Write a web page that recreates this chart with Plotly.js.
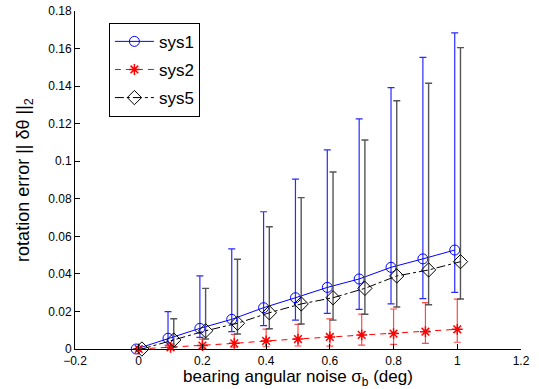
<!DOCTYPE html>
<html>
<head>
<meta charset="utf-8">
<script src="https://cdn.plot.ly/plotly-3.0.1.min.js"></script>
<style>html,body{margin:0;padding:0;background:#fff;}#chart{width:539px;height:389px;}</style>
</head>
<body>
<div id="chart"></div>
<script>
// noise levels (deg)
const noise = [0, 0.1, 0.2, 0.3, 0.4, 0.5, 0.6, 0.7, 0.8, 0.9, 1.0];
// small horizontal offsets used in the original plot to separate series
const sys1Offset = -0.008;
const sys2Offset = 0.0;
const sys5Offset = 0.01;

// sys1: mean, upper bound, lower bound
const sys1Mean  = [0, 0.0057, 0.0110, 0.0158, 0.0220, 0.0273, 0.0328, 0.0373, 0.0435, 0.0480, 0.0527];
const sys1Upper = [0, 0.0199, 0.0389, 0.0533, 0.0731, 0.0905, 0.1060, 0.1225, 0.1392, 0.1553, 0.1683];
const sys1Lower = [0, 0.0020, 0.0062, 0.0092, 0.0124, 0.0154, 0.0190, 0.0211, 0.0240, 0.0268, 0.0302];

// sys2
const sys2Mean  = [0, 0.0009, 0.0018, 0.0030, 0.0043, 0.0053, 0.0064, 0.0075, 0.0082, 0.0092, 0.0105];
const sys2Upper = [0, 0.0028, 0.0053, 0.0078, 0.0106, 0.0131, 0.0160, 0.0186, 0.0213, 0.0247, 0.0266];
const sys2Lower = [0, 0.0003, 0.0005, 0.0010, 0.0012, 0.0016, 0.0015, 0.0021, 0.0025, 0.0030, 0.0036];

// sys5
const sys5Mean  = [0, 0.0048, 0.0097, 0.0137, 0.0193, 0.0240, 0.0273, 0.0323, 0.0389, 0.0421, 0.0465];
const sys5Upper = [0, 0.0161, 0.0323, 0.0478, 0.0651, 0.0806, 0.0943, 0.1113, 0.1322, 0.1415, 0.1605];
const sys5Lower = [0, 0.0010, 0.0053, 0.0080, 0.0108, 0.0133, 0.0154, 0.0185, 0.0224, 0.0236, 0.0266];

const xTicks = [-0.2, 0, 0.2, 0.4, 0.6, 0.8, 1, 1.2];
const yTicks = [0, 0.02, 0.04, 0.06, 0.08, 0.1, 0.12, 0.14, 0.16, 0.18];

function plus(m, u) { return m.map((v, i) => u[i] - v); }
function minus(m, l) { return m.map((v, i) => v - l[i]); }
function shift(off) { return noise.map(v => v + off); }

const font = 'Liberation Sans, Arial, Helvetica, sans-serif';

const traces = [
  {
    name: 'sys1', legendgroup: 'g1', x: shift(sys1Offset), y: sys1Mean, type: 'scatter', mode: 'lines+markers',
    line: {color: '#0000ff', width: 1},
    marker: {symbol: 'circle-open', size: 10, color: '#0000ff', line: {color: '#0000ff', width: 1}},
    error_y: {type: 'data', symmetric: false, array: plus(sys1Mean, sys1Upper), arrayminus: minus(sys1Mean, sys1Lower),
              color: '#2a2aff', thickness: 1.2, width: 3.5},
    cliponaxis: false
  },
  {
    name: 'sys2', legendgroup: 'g2', x: shift(sys2Offset), y: sys2Mean, type: 'scatter', mode: 'lines+markers',
    line: {color: '#ff0000', width: 1, dash: '6px,5px'},
    marker: {symbol: 'asterisk-open', size: 9, color: '#ff0000', line: {color: '#ff0000', width: 1.5}},
    error_y: {type: 'data', symmetric: false, array: plus(sys2Mean, sys2Upper), arrayminus: minus(sys2Mean, sys2Lower),
              color: '#ff4a4a', thickness: 1.2, width: 3.5},
    cliponaxis: false
  },
  {
    name: 'sys5', legendgroup: 'g3', x: shift(sys5Offset), y: sys5Mean, type: 'scatter', mode: 'lines+markers',
    line: {color: '#000000', width: 1, dash: 'dashdot'},
    marker: {symbol: 'diamond-open', size: 11, color: '#000000', line: {color: '#000000', width: 1}},
    error_y: {type: 'data', symmetric: false, array: plus(sys5Mean, sys5Upper), arrayminus: minus(sys5Mean, sys5Lower),
              color: '#555555', thickness: 1.4, width: 3.5},
    cliponaxis: false
  }
];

const layout = {
  width: 539, height: 389,
  margin: {l: 75, r: 18, t: 11, b: 40, pad: 0},
  paper_bgcolor: '#ffffff', plot_bgcolor: '#ffffff',
  font: {family: font, color: '#000000', size: 12},
  showlegend: true,
  legend: {
    x: 0.076, y: 0.965, xanchor: 'left', yanchor: 'top',
    bgcolor: '#ffffff', bordercolor: '#000000', borderwidth: 1,
    font: {family: font, size: 17, color: '#000000'},
    tracegroupgap: 3, itemwidth: 39
  },
  xaxis: {
    range: [-0.2, 1.2], tickvals: xTicks, ticktext: xTicks.map(v => (v < 0 ? '\u2212' : '') + String(Math.abs(v))),
    showline: true, linecolor: '#000000', linewidth: 1, mirror: false,
    ticks: 'inside', ticklen: 5, tickcolor: '#000000', tickwidth: 1,
    showgrid: false, zeroline: false, ticklabelstandoff: 1,
    tickfont: {family: font, size: 12, color: '#000000'},
    title: {text: 'bearing angular noise \u03c3<sub>b</sub> (deg)', font: {family: font, size: 17, color: '#000000'}}
  },
  yaxis: {
    range: [0, 0.18], tickvals: yTicks, ticktext: yTicks.map(v => String(+v.toFixed(2))),
    showline: true, linecolor: '#000000', linewidth: 1, mirror: false,
    ticks: 'inside', ticklen: 5, tickcolor: '#000000', tickwidth: 1,
    showgrid: false, zeroline: false,
    tickfont: {family: font, size: 12, color: '#000000'},
    title: {text: 'rotation error || \u03b4\u03b8 ||<sub>2</sub>', font: {family: font, size: 18, color: '#000000'}}
  }
};

Plotly.newPlot('chart', traces, layout, {displayModeBar: false, staticPlot: true});
</script>
</body>
</html>
